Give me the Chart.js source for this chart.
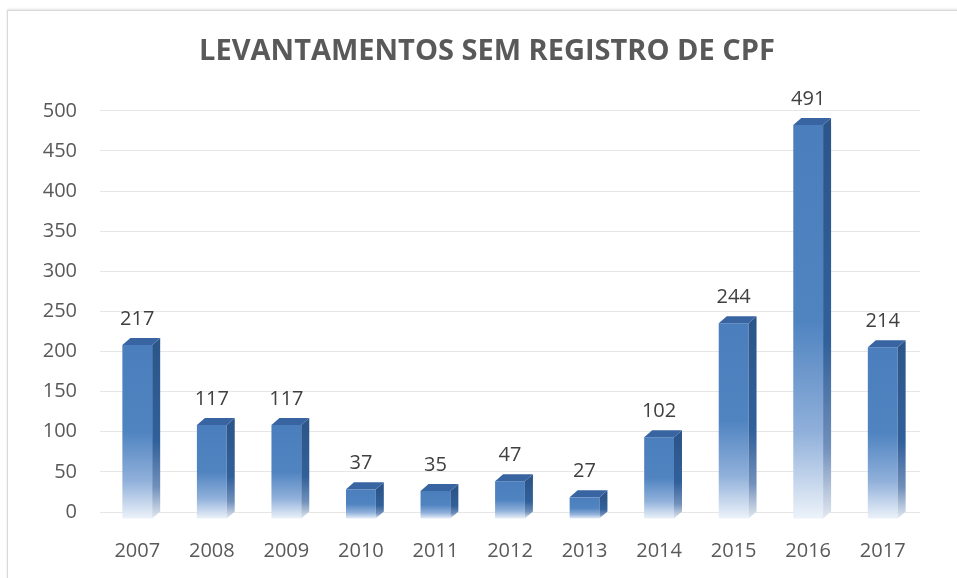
<!DOCTYPE html>
<html>
<head>
<meta charset="utf-8">
<script src="https://cdn.jsdelivr.net/npm/chart.js@4"></script>
<style>
  html, body { margin: 0; padding: 0; background: #fff; overflow: hidden; }
  #frame {
    position: absolute; left: 7px; top: 10px; width: 1000px; height: 620px;
    border: 1px solid #d9d9d9; box-shadow: 0 -1px 2px #e4e4e4;
  }
  #chart { position: absolute; left: 0; top: 0; }
</style>
</head>
<body>
<div id="frame"></div>
<canvas id="chart" width="957" height="578"></canvas>
<script>
const anos = ['2007', '2008', '2009', '2010', '2011', '2012', '2013', '2014', '2015', '2016', '2017'];
const levantamentos = [217, 117, 117, 37, 35, 47, 27, 102, 244, 491, 214];
const yTicks = [0, 50, 100, 150, 200, 250, 300, 350, 400, 450, 500];

// 3D look: front face shifted down, side and top faces drawn by hand
const DX = 8, DY = 7;

function frontGradient(context) {
  const chart = context.chart;
  if (!chart.chartArea) return '#4a7ebb';
  const top = chart.scales.y.getPixelForValue(levantamentos[context.dataIndex]);
  const bottom = chart.scales.y.getPixelForValue(0);
  const g = chart.ctx.createLinearGradient(0, top, 0, bottom);
  g.addColorStop(0, '#4b7ebc');
  g.addColorStop(0.5, '#5084c1');
  g.addColorStop(0.78, '#90b0da');
  g.addColorStop(1, '#edf3fa');
  return g;
}

const bars3d = {
  id: 'bars3d',
  beforeDatasetsDraw(chart) {
    chart.ctx.save();
    chart.ctx.translate(0, DY);
  },
  afterDatasetsDraw(chart) {
    const ctx = chart.ctx;
    const meta = chart.getDatasetMeta(0);
    meta.data.forEach((bar, i) => {
      const p = bar.getProps(['x', 'y', 'base', 'width'], true);
      const l = p.x - p.width / 2, r = p.x + p.width / 2;
      // side
      const sg = ctx.createLinearGradient(0, p.y, 0, p.base);
      sg.addColorStop(0, '#2c568a');
      sg.addColorStop(0.55, '#31609a');
      sg.addColorStop(0.82, '#7190bb');
      sg.addColorStop(1, '#e2e8f0');
      ctx.fillStyle = sg;
      ctx.beginPath();
      ctx.moveTo(r, p.y);
      ctx.lineTo(r + DX, p.y - DY);
      ctx.lineTo(r + DX, p.base - DY);
      ctx.lineTo(r, p.base);
      ctx.closePath();
      ctx.fill();
      // top
      ctx.fillStyle = '#3865a2';
      ctx.beginPath();
      ctx.moveTo(l, p.y);
      ctx.lineTo(l + DX, p.y - DY);
      ctx.lineTo(r + DX, p.y - DY);
      ctx.lineTo(r, p.y);
      ctx.closePath();
      ctx.fill();
      // value label
      ctx.fillStyle = '#404040';
      ctx.font = '20px "Open Sans"';
      ctx.textAlign = 'center';
      ctx.textBaseline = 'middle';
      ctx.fillText(String(levantamentos[i]), p.x, p.y - 26);
    });
    ctx.restore();
  }
};

new Chart(document.getElementById('chart'), {
  type: 'bar',
  data: {
    labels: anos,
    datasets: [{
      label: 'Levantamentos',
      data: levantamentos,
      backgroundColor: frontGradient,
      borderWidth: 0,
      categoryPercentage: 1,
      barPercentage: 0.4,
      clip: false
    }]
  },
  options: {
    responsive: false,
    animation: false,
    layout: { padding: { left: 37, right: 20, top: 0, bottom: 15 } },
    scales: {
      x: {
        afterFit(scale) { scale.height = 51; },
        grid: { display: false, drawTicks: false },
        border: { display: false },
        ticks: { color: '#595959', font: { family: 'Open Sans', size: 20 }, padding: 27 }
      },
      y: {
        min: 0,
        max: 500,
        afterFit(scale) { scale.width = 63; },
        afterBuildTicks(scale) { scale.ticks = yTicks.map(v => ({ value: v })); },
        grid: { color: '#e6e6e6', drawTicks: false },
        border: { display: false },
        ticks: { color: '#595959', font: { family: 'Open Sans', size: 20 }, padding: 23 }
      },
      y2: {
        position: 'right',
        display: true,
        afterFit(scale) { scale.width = 17; },
        grid: { display: false },
        border: { display: false },
        ticks: { display: false }
      }
    },
    plugins: {
      legend: { display: false },
      tooltip: { enabled: false },
      title: {
        display: true,
        text: 'LEVANTAMENTOS SEM REGISTRO DE CPF',
        color: '#595959',
        font: { family: 'Open Sans', size: 29, weight: 'bold' },
        padding: { top: 34, bottom: 42 }
      }
    }
  },
  plugins: [bars3d]
});
</script>
</body>
</html>
